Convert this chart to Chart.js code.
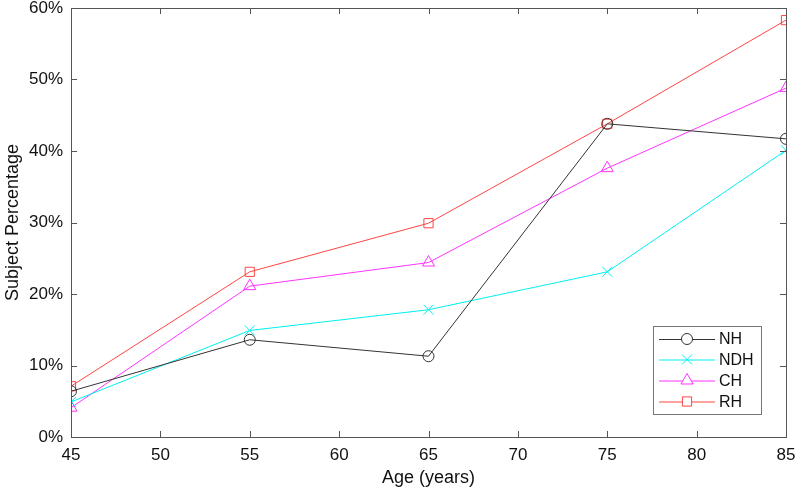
<!DOCTYPE html>
<html>
<head>
<meta charset="utf-8">
<script src="https://cdn.jsdelivr.net/npm/chart.js@4.4.1/dist/chart.umd.min.js"></script>
<style>
  html, body { margin:0; padding:0; background:#fff; }
  #wrap { width:796px; height:489px; }
</style>
</head>
<body>
<div id="wrap"><canvas id="chart" width="796" height="489"></canvas></div>
<script>
/* ---------- data ---------- */
const ages     = [45, 55, 65, 75, 85];
const nhVals   = [6.4, 13.6, 11.3, 43.8, 41.7];
const ndhVals  = [4.9, 14.9, 17.8, 23.1, 40.1];
const chVals   = [4.1, 21.1, 24.4, 37.6, 48.8];
const rhVals   = [7.1, 23.1, 29.9, 43.8, 58.3];
const xTicks   = [45, 50, 55, 60, 65, 70, 75, 80, 85];
const yTicks   = [0, 10, 20, 30, 40, 50, 60];

const FONT = "Liberation Sans, Arial, sans-serif";
const AXIS = "#555";

function pts(vals){
  return ages.map((a,i)=>({x:a, y:vals[i]}));
}

function series(label, vals, color, style, r){
  return {
    label: label,
    data: pts(vals),
    borderColor: color,
    backgroundColor: "rgba(0,0,0,0)",
    borderWidth: 1,
    pointStyle: style,
    pointRadius: r,
    pointBorderColor: color,
    pointBorderWidth: 1,
    pointBackgroundColor: "rgba(0,0,0,0)",
    tension: 0,
    fill: false
  };
}

const datasets = [
  series("NH",  nhVals,  "#333333", "circle",   5.5),
  series("NDH", ndhVals, "#00f0f0", "crossRot", 7),
  series("CH",  chVals,  "#ff33ff", "triangle", 7),
  series("RH",  rhVals,  "#ff4444", "rect",     6.5)
];

// drop the automatic label padding so the plot box sits where the reference has it
function noPad(s){
  s.paddingTop = 0; s.paddingBottom = 0; s.paddingLeft = 0; s.paddingRight = 0;
}

/* ---------- box, inward ticks, legend ---------- */
const boxPlugin = {
  id: "boxPlugin",
  afterDraw(chart){
    const ctx = chart.ctx;
    const a = chart.chartArea;
    const xs = chart.scales.x, ys = chart.scales.y;
    ctx.save();
    ctx.strokeStyle = AXIS;
    ctx.lineWidth = 1;
    ctx.strokeRect(a.left + 0.5, a.top + 0.5, a.right - a.left, a.bottom - a.top);
    ctx.beginPath();
    xTicks.forEach(v=>{
      const px = Math.round(xs.getPixelForValue(v)) + 0.5;
      ctx.moveTo(px, a.bottom); ctx.lineTo(px, a.bottom - 6);
      ctx.moveTo(px, a.top);    ctx.lineTo(px, a.top + 6);
    });
    yTicks.forEach(v=>{
      const py = Math.round(ys.getPixelForValue(v)) + 0.5;
      ctx.moveTo(a.left, py);  ctx.lineTo(a.left + 6, py);
      ctx.moveTo(a.right, py); ctx.lineTo(a.right - 6, py);
    });
    ctx.stroke();

    // legend
    const lx = 653, ly = 326, lw = 108, lh = 88;
    ctx.fillStyle = "#fff";
    ctx.fillRect(lx, ly, lw, lh);
    ctx.strokeStyle = "#777";
    ctx.strokeRect(lx + 0.5, ly + 0.5, lw, lh);
    const rows = [339, 359.5, 380.5, 401.5];
    ctx.font = "16px " + FONT;
    ctx.textBaseline = "middle";
    chart.data.datasets.forEach((d,i)=>{
      const y = rows[i];
      ctx.strokeStyle = d.borderColor;
      ctx.lineWidth = 1;
      ctx.beginPath();
      ctx.moveTo(659, y + 0.5); ctx.lineTo(715, y + 0.5);
      ctx.stroke();
      ctx.fillStyle = "#fff";
      Chart.helpers.drawPoint(ctx, {
        pointStyle: d.pointStyle,
        radius: d.pointRadius,
        borderWidth: 1,
        rotation: 0
      }, 687, y);
      ctx.fillStyle = "#111";
      ctx.fillText(d.label, 719, y + 1);
    });
    ctx.restore();
  }
};

new Chart(document.getElementById("chart"), {
  type: "line",
  data: { datasets: datasets },
  plugins: [boxPlugin],
  options: {
    responsive: false,
    animation: false,
    layout: { padding: { top: 6, right: 10, left: 0, bottom: 0 } },
    plugins: {
      legend: { display: false },
      tooltip: { enabled: false }
    },
    scales: {
      x: {
        type: "linear",
        min: 45, max: 85,
        afterBuildTicks: s => { s.ticks = xTicks.map(v=>({value:v})); },
        afterFit: s => { s.height = 52; noPad(s); },
        grid: { display: false, drawTicks: false },
        border: { display: false },
        ticks: { color: "#111", font: { family: FONT, size: 17 }, padding: 8, maxRotation: 0 },
        title: { display: true, text: "Age (years)", color: "#111",
                 font: { family: FONT, size: 18 }, padding: { top: 0, bottom: 0 } }
      },
      y: {
        type: "linear",
        min: 0, max: 60,
        afterBuildTicks: s => { s.ticks = yTicks.map(v=>({value:v})); },
        afterFit: s => { s.width = 71; noPad(s); },
        grid: { display: false, drawTicks: false },
        border: { display: false },
        ticks: { color: "#111", font: { family: FONT, size: 17 }, padding: 8,
                 callback: v => v + "%" },
        title: { display: true, text: "Subject Percentage", color: "#111",
                 font: { family: FONT, size: 18 }, padding: { top: 2, bottom: 0 } }
      }
    }
  }
});
</script>
</body>
</html>
